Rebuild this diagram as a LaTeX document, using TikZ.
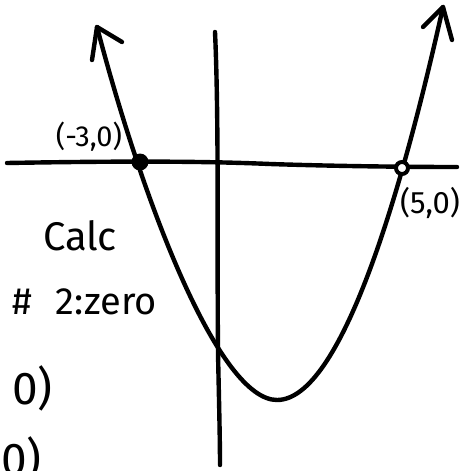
\documentclass[tikz,border=0pt]{standalone}
\usepackage{fontspec}
\setmainfont{Fira Sans}
\begin{document}
\begin{tikzpicture}[x=1pt,y=-1pt,line cap=round,line join=round,
  hand/.style={line width=4.4pt,black},
  lbl/.style={inner sep=0pt,text=black},
  filldot/.style={circle,fill=black,inner sep=0pt,minimum size=17pt},
  opendot/.style={circle,draw=black,line width=4pt,fill=white,inner sep=0pt,minimum size=12pt}]
\useasboundingbox (0,0) rectangle (470,471);
\clip (0,0) rectangle (470,471);
% axes
\coordinate (xl) at (7,163);
\coordinate (xr) at (457,167);
\coordinate (yt) at (215,32);
\coordinate (yb) at (220,465);
\draw[hand] (xl) .. controls (120,161) and (200,161) .. (270,164) .. controls (330,166) and (400,167) .. (xr);
\draw[hand] (yt) .. controls (219,120) and (217,250) .. (218,353) .. controls (219,400) and (220,440) .. (yb);
% parabola
\coordinate (tl) at (97,27);
\coordinate (vx) at (277,400);
\coordinate (tr) at (443,7);
\draw[hand] (tl) .. controls (145,210) and (220,400) .. (vx) .. controls (340,400) and (400,200) .. (tr);
% arrow heads
\coordinate (tla) at (92,60);
\coordinate (tlb) at (122,42);
\coordinate (tra) at (423,27);
\coordinate (trb) at (452,40);
\draw[hand] (tla) -- (tl) -- (tlb);
\draw[hand] (tra) -- (tr) -- (trb);
% points
\node[filldot] (p1) at (140,162) {};
\node[opendot] (p2) at (402,168) {};
% labels
\node[lbl,font=\fontsize{29}{31}\selectfont] (l1) at (89,137) {(-3,0)};
\node[lbl,font=\fontsize{31}{33}\selectfont] (l2) at (430,203) {(5,0)};
\node[lbl,font=\fontsize{40}{42}\selectfont] (t1) at (80,236) {Calc};
\node[lbl,font=\fontsize{38}{40}\selectfont,anchor=east] (t2) at (157,302) {\#\hspace{24pt}2:zero};
\node[lbl,font=\fontsize{46}{48}\selectfont,anchor=east] (t3) at (53,388) {0)};
\node[lbl,font=\fontsize{46}{48}\selectfont,anchor=north east] (t4) at (42,436) {0)};
\end{tikzpicture}
\end{document}
